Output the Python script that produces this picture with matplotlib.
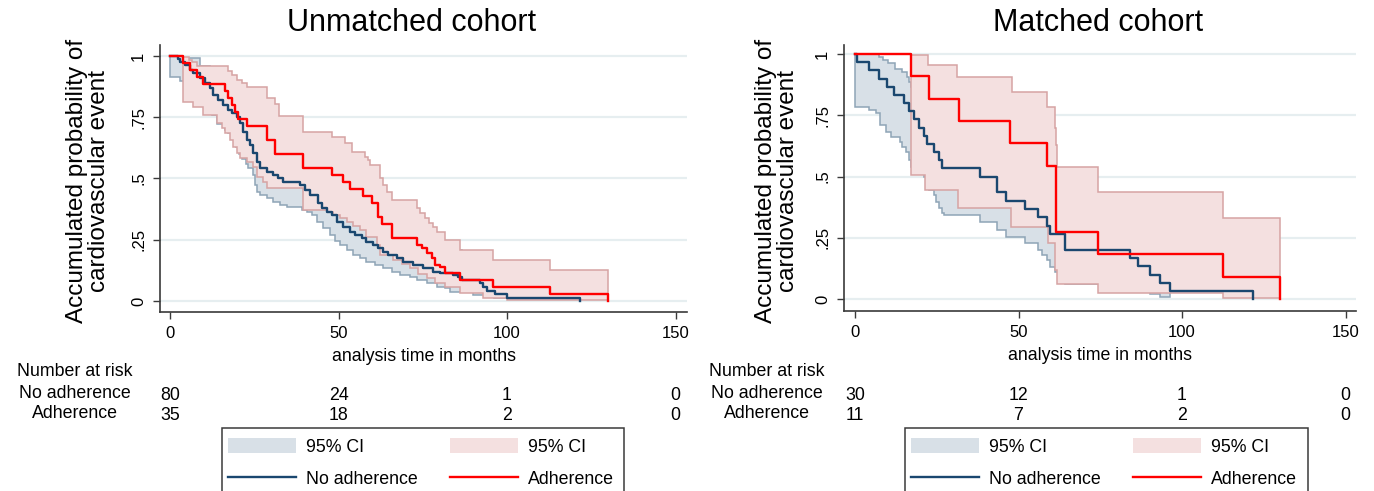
import numpy as np
import matplotlib
matplotlib.use('Agg')
import matplotlib.pyplot as plt
from matplotlib.lines import Line2D
from matplotlib.patches import Patch, Rectangle
from matplotlib.transforms import blended_transform_factory

plt.rcParams['font.family'] = ['Liberation Sans', 'DejaVu Sans']

#-----------------DATA------------------------------------------#
# Unmatched cohort - no adherence (KM curve + 95% CI)
un_no_t = [0, 2.5, 3.0, 4.5, 5.9, 6.9, 8.9, 10.4, 11.9, 12.9, 14.3, 15.8, 17.3, 18.3, 19.8,
           20.8, 21.8, 22.7, 23.7, 24.7, 25.7, 26.7, 28.7, 30.7, 32.1, 33.6, 38.6, 40.1, 41.5,
           44.0, 45.0, 46.5, 48.0, 49.5, 51.4, 53.4, 54.9, 56.9, 58.3, 60.3, 61.8, 63.3, 64.8,
           67.3, 69.2, 72.2, 75.2, 78.1, 80.0, 84.1, 85.6, 86.6, 92.0, 93.0, 94.0, 96.5, 99.9, 121.7]
un_no_s = [1.0, 0.988, 0.975, 0.963, 0.943, 0.929, 0.909, 0.888, 0.868, 0.841, 0.820, 0.800, 0.780,
           0.766, 0.752, 0.725, 0.691, 0.657, 0.637, 0.603, 0.569, 0.542, 0.528, 0.514, 0.501, 0.487,
           0.473, 0.455, 0.433, 0.399, 0.378, 0.365, 0.351, 0.324, 0.303, 0.283, 0.269, 0.256, 0.242,
           0.229, 0.215, 0.201, 0.188, 0.174, 0.160, 0.147, 0.133, 0.120, 0.113, 0.106, 0.099, 0.086,
           0.072, 0.058, 0.042, 0.029, 0.0125, 0.0]
un_no_hi_t = [0, 4.0, 8.9, 11.9, 14.3, 17.3, 19.8, 21.8, 23.7, 25.7, 28.7, 33.6, 40.1, 44.0, 48.0,
              51.4, 54.9, 58.3, 61.8, 64.8, 69.2, 75.2, 80.0, 86.6, 94.0]
un_no_hi_s = [1.0, 0.99, 0.96, 0.93, 0.90, 0.86, 0.83, 0.79, 0.73, 0.67, 0.63, 0.60, 0.56, 0.51, 0.46,
              0.42, 0.38, 0.35, 0.32, 0.29, 0.26, 0.23, 0.21, 0.18, 0.14]
un_no_lo_t = [0, 3.0, 5.0, 7.0, 9.0, 11.0, 12.5, 13.9, 16.3, 17.3, 18.5, 19.5, 20.5, 21.5, 22.5, 23.2,
              24.7, 25.2, 25.7, 26.7, 28.7, 30.7, 32.6, 34.6, 39.1, 40.6, 42.0, 43.5, 45.5, 47.5, 48.9,
              50.4, 52.4, 54.4, 56.4, 58.3, 60.8, 63.3, 65.8, 68.3, 71.2, 73.2, 76.2, 79.1, 81.6, 83.1,
              90.0, 96.0]
un_no_lo_s = [0.916, 0.900, 0.880, 0.860, 0.830, 0.800, 0.760, 0.722, 0.698, 0.684, 0.660, 0.630, 0.600,
              0.580, 0.560, 0.542, 0.514, 0.473, 0.446, 0.433, 0.419, 0.405, 0.392, 0.385, 0.371, 0.365,
              0.351, 0.324, 0.297, 0.271, 0.244, 0.229, 0.208, 0.188, 0.174, 0.160, 0.147, 0.133, 0.120,
              0.106, 0.099, 0.086, 0.072, 0.059, 0.052, 0.038, 0.024, 0.011]
un_no_ci_end = 99.9

# Unmatched cohort - adherence
un_adh_t = [0, 4.0, 6.0, 7.9, 9.9, 16.3, 17.3, 18.3, 19.3, 20.3, 22.7, 28.7, 31.2, 39.6, 48.0, 51.4,
            53.4, 57.4, 59.8, 61.8, 62.8, 65.8, 73.2, 74.7, 76.2, 77.6, 78.6, 80.1, 81.6, 86.1, 95.9,
            112.8, 130.0]
un_adh_s = [1.0, 0.971, 0.943, 0.914, 0.886, 0.857, 0.829, 0.800, 0.771, 0.743, 0.714, 0.657, 0.600,
            0.543, 0.514, 0.486, 0.457, 0.429, 0.400, 0.343, 0.314, 0.257, 0.229, 0.215, 0.194, 0.174,
            0.147, 0.140, 0.113, 0.086, 0.057, 0.029, 0.0]
un_adh_hi_t = [4.0, 5.5, 6.4, 7.9, 17.3, 18.3, 19.8, 21.3, 22.7, 28.7, 31.2, 32.2, 39.4, 48.0, 51.9,
               53.9, 57.9, 58.8, 59.3, 62.3, 63.3, 64.3, 65.8, 73.2, 74.2, 75.7, 76.7, 78.1, 79.1,
               81.6, 86.1, 95.9, 112.8]
un_adh_hi_s = [0.997, 0.985, 0.977, 0.959, 0.940, 0.922, 0.902, 0.888, 0.875, 0.830, 0.805, 0.755,
               0.691, 0.671, 0.644, 0.610, 0.589, 0.575, 0.555, 0.501, 0.473, 0.446, 0.412, 0.378,
               0.358, 0.337, 0.317, 0.303, 0.283, 0.249, 0.208, 0.167, 0.127]
un_adh_lo_t = [4.0, 6.9, 9.9, 13.9, 15.3, 16.3, 17.8, 18.8, 19.8, 20.8, 22.7, 24.7, 25.7, 27.7, 28.7,
               39.4, 46.5, 48.5, 50.4, 52.4, 54.4, 56.4, 58.3, 61.3, 62.3, 66.3, 68.8, 71.2, 73.7,
               76.2, 78.6, 81.6, 86.1, 93.0, 100.0]
un_adh_lo_s = [0.814, 0.793, 0.759, 0.725, 0.705, 0.684, 0.657, 0.630, 0.603, 0.582, 0.569, 0.548,
               0.507, 0.487, 0.460, 0.371, 0.365, 0.351, 0.338, 0.324, 0.307, 0.290, 0.260, 0.229,
               0.188, 0.167, 0.150, 0.133, 0.112, 0.092, 0.075, 0.059, 0.031, 0.011, 0.004]
un_adh_ci_end = 130.0

# Matched cohort - no adherence
ma_no_t = [0, 0.5, 4.3, 7.3, 9.9, 11.9, 15.0, 16.5, 18.0, 19.6, 21.1, 22.1, 24.2, 25.7, 26.7, 38.2,
           43.3, 46.3, 52.0, 56.1, 58.6, 59.6, 64.2, 84.1, 86.6, 90.2, 93.3, 96.3, 121.8]
ma_no_s = [1.0, 0.967, 0.933, 0.900, 0.867, 0.833, 0.800, 0.767, 0.733, 0.700, 0.667, 0.633, 0.600,
           0.567, 0.533, 0.500, 0.438, 0.400, 0.367, 0.333, 0.300, 0.267, 0.200, 0.167, 0.133, 0.100,
           0.067, 0.033, 0.0]
ma_no_hi_t = [0, 7.3, 8.7, 10.2, 12.2, 14.3, 15.8, 16.5, 17.0, 18.0, 19.6, 21.1, 22.1, 24.2, 25.7,
              26.7, 38.2, 43.3, 46.3, 52.0, 56.1, 58.6, 59.6, 64.2, 84.1, 86.6, 90.2, 93.3]
ma_no_hi_s = [1.0, 0.990, 0.976, 0.962, 0.941, 0.928, 0.907, 0.887, 0.867, 0.85, 0.83, 0.81, 0.78,
              0.75, 0.72, 0.69, 0.66, 0.61, 0.57, 0.54, 0.50, 0.47, 0.43, 0.36, 0.32, 0.28, 0.24, 0.19]
ma_no_lo_t = [0, 4.3, 6.3, 7.8, 9.4, 10.9, 13.9, 14.5, 15.5, 16.5, 17.0, 18.0, 19.6, 21.1, 21.6, 22.6,
              24.2, 24.7, 25.7, 26.7, 27.2, 38.2, 43.3, 46.3, 52.0, 56.1, 57.1, 58.6, 59.6, 61.2, 64.2,
              84.1, 86.6, 90.2, 93.3]
ma_no_lo_s = [0.785, 0.771, 0.758, 0.710, 0.683, 0.663, 0.642, 0.622, 0.601, 0.567, 0.540, 0.530,
              0.515, 0.499, 0.465, 0.445, 0.424, 0.397, 0.370, 0.350, 0.343, 0.316, 0.282, 0.254,
              0.227, 0.200, 0.180, 0.159, 0.132, 0.112, 0.060, 0.045, 0.035, 0.022, 0.010]
ma_no_ci_end = 96.3

# Matched cohort - adherence
ma_adh_t = [0, 17.0, 22.6, 31.8, 47.4, 58.6, 61.5, 74.4, 112.6, 130.0]
ma_adh_s = [1.0, 0.909, 0.818, 0.727, 0.636, 0.545, 0.273, 0.182, 0.091, 0.0]
ma_adh_hi_t = [17.0, 22.4, 31.1, 47.9, 58.6, 61.2, 61.5, 61.9, 74.4, 112.6]
ma_adh_hi_s = [0.997, 0.955, 0.907, 0.846, 0.785, 0.697, 0.629, 0.540, 0.438, 0.329]
ma_adh_lo_t = [17.0, 21.4, 31.5, 47.6, 58.9, 61.2, 61.7, 74.4, 112.6]
ma_adh_lo_s = [0.506, 0.445, 0.370, 0.295, 0.227, 0.118, 0.060, 0.023, 0.003]
ma_adh_ci_end = 130.0

# Number at risk table
risk_t = [0, 50, 100, 150]
un_risk_no = [80, 24, 1, 0]
un_risk_adh = [35, 18, 2, 0]
ma_risk_no = [30, 12, 1, 0]
ma_risk_adh = [11, 7, 2, 0]

#-----------------STYLE-------------------------------------------#
navy = '#1a476f'
red = '#ff0000'
blue_fill = '#d8e0e7'
blue_edge = '#8ea4b6'
pink_fill = '#f4e0e0'
pink_edge = '#d6a3a3'
grid_col = '#e6eef0'
axis_col = '#3a3a3a'
txt_size = 12.8
W, H = 1374, 491

#-----------------FUNCTIONS---------------------------------------#
# vertices of a right-continuous step function
def step_path(t, s, t_end):
    x = [t[0]]
    y = [s[0]]
    for i in range(1, len(t)):
        x += [t[i], t[i]]
        y += [s[i - 1], s[i]]
    x.append(t_end)
    y.append(s[-1])
    return np.array(x), np.array(y)

# shaded confidence band between an upper and a lower step function
def ci_band(ax, hi_t, hi_s, lo_t, lo_s, t_end, fc, ec, z):
    ux, uy = step_path(hi_t, hi_s, t_end)
    lx, ly = step_path(lo_t, lo_s, t_end)
    ax.fill(np.concatenate([ux, lx[::-1]]), np.concatenate([uy, ly[::-1]]),
            facecolor=fc, edgecolor=ec, lw=1.1, zorder=z)

def km_line(ax, t, s, col, z):
    x, y = step_path(t, s, t[-1])
    ax.plot(x, y, color=col, lw=1.7, zorder=z)

def style_axes(ax, xlim, ylim):
    ax.set_xlim(*xlim)
    ax.set_ylim(*ylim)
    ax.set_xticks([0, 50, 100, 150])
    ax.set_yticks([0, 0.25, 0.5, 0.75, 1])
    ax.set_yticklabels(['0', '.25', '.5', '.75', '1'], rotation=90, va='center')
    ax.tick_params(labelsize=12, length=5, width=1, color=axis_col, pad=5)
    ax.yaxis.grid(True, color=grid_col, lw=1.6)
    ax.set_axisbelow(True)
    for side in ['top', 'right']:
        ax.spines[side].set_visible(False)
    for side in ['left', 'bottom']:
        ax.spines[side].set_color(axis_col)
        ax.spines[side].set_linewidth(1.2)
    ax.set_xlabel('analysis time in months', fontsize=txt_size, labelpad=5)

def risk_table(ax, label_x, no_vals, adh_vals):
    tr = blended_transform_factory(ax.transData, fig.transFigure)
    fig.text(label_x / W, 1 - 372 / H, 'Number at risk', ha='center', va='center', fontsize=txt_size)
    fig.text(label_x / W, 1 - 394 / H, 'No adherence', ha='center', va='center', fontsize=txt_size)
    fig.text(label_x / W, 1 - 414 / H, 'Adherence', ha='center', va='center', fontsize=txt_size)
    for i in range(len(risk_t)):
        ax.text(risk_t[i], 1 - 395 / H, str(no_vals[i]), transform=tr, ha='center', va='center', fontsize=txt_size)
        ax.text(risk_t[i], 1 - 415 / H, str(adh_vals[i]), transform=tr, ha='center', va='center', fontsize=txt_size)

def legend_box(x0, x1):
    handles = [Patch(facecolor=blue_fill, edgecolor='none'),
               Line2D([], [], color=navy, lw=1.7),
               Patch(facecolor=pink_fill, edgecolor='none'),
               Line2D([], [], color=red, lw=1.7)]
    labels = ['95% CI', 'No adherence', '95% CI', 'Adherence']
    fig.legend(handles, labels, ncol=2, frameon=False, loc='upper left',
               bbox_to_anchor=((x0 + 6) / W, 1 - 438 / H), fontsize=txt_size,
               handlelength=3.8, handleheight=0.95, handletextpad=0.6,
               columnspacing=1.8, labelspacing=0.8, borderpad=0, borderaxespad=0)
    fig.patches.append(Rectangle((x0 / W, -0.1), (x1 - x0) / W, 1 - 428 / H + 0.1,
                                 transform=fig.transFigure, fill=False,
                                 edgecolor=axis_col, lw=1.1))

#-----------------FIGURE------------------------------------------#
fig = plt.figure(figsize=(W / 100, H / 100), dpi=100)
ax1 = fig.add_axes([160 / W, 1 - 312 / H, 527 / W, 267 / H])
ax2 = fig.add_axes([844 / W, 1 - 311 / H, 512 / W, 266 / H])

# Unmatched cohort
ci_band(ax1, un_no_hi_t, un_no_hi_s, un_no_lo_t, un_no_lo_s, un_no_ci_end, blue_fill, blue_edge, 1)
ci_band(ax1, un_adh_hi_t, un_adh_hi_s, un_adh_lo_t, un_adh_lo_s, un_adh_ci_end, pink_fill, pink_edge, 2)
km_line(ax1, un_no_t, un_no_s, navy, 3)
km_line(ax1, un_adh_t, un_adh_s, red, 4)
style_axes(ax1, (-2.97, 153.4), (-0.045, 1.045))

# Matched cohort
ci_band(ax2, ma_no_hi_t, ma_no_hi_s, ma_no_lo_t, ma_no_lo_s, ma_no_ci_end, blue_fill, blue_edge, 1)
ci_band(ax2, ma_adh_hi_t, ma_adh_hi_s, ma_adh_lo_t, ma_adh_lo_s, ma_adh_ci_end, pink_fill, pink_edge, 2)
km_line(ax2, ma_no_t, ma_no_s, navy, 3)
km_line(ax2, ma_adh_t, ma_adh_s, red, 4)
style_axes(ax2, (-3.36, 153.2), (-0.049, 1.037))

# titles and y-axis titles
ylab = 'Accumulated probability of\ncardiovascular event'
fig.text(412 / W, 1 - 23 / H, 'Unmatched cohort', ha='center', va='center', fontsize=22)
fig.text(1098 / W, 1 - 23 / H, 'Matched cohort', ha='center', va='center', fontsize=22)
fig.text(88 / W, 1 - 181 / H, ylab, rotation=90, ha='center', va='center',
         fontsize=17.5, linespacing=1.0)
fig.text(777 / W, 1 - 181 / H, ylab, rotation=90, ha='center', va='center',
         fontsize=17.5, linespacing=1.0)

# number at risk
risk_table(ax1, 75, un_risk_no, un_risk_adh)
risk_table(ax2, 767, ma_risk_no, ma_risk_adh)

# legends
legend_box(222, 624)
legend_box(905, 1308)

fig.savefig('out.png', dpi=100)
